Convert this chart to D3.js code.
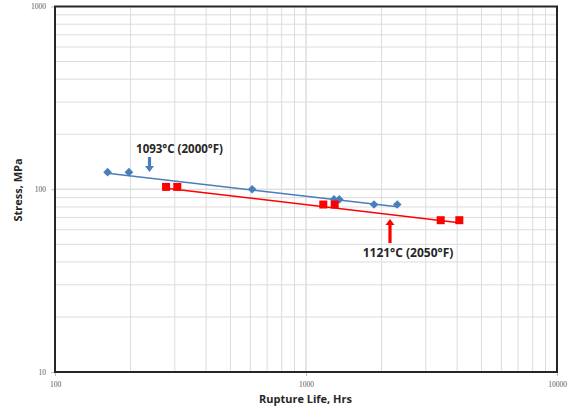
<!DOCTYPE html>
<html><head><meta charset="utf-8">
<script src="https://cdn.jsdelivr.net/npm/d3@7"></script>
<style>body{margin:0;background:#fff;} svg{display:block;}</style>
</head><body>
<script>
// Data
const blueHours = [162, 197, 610, 1293, 1357, 1866, 2310];
const blueStress = [124, 124, 100, 88, 88, 82.5, 82.5];
const redHours = [277, 307, 1172, 1301, 3441, 4082];
const redStress = [103, 103, 82.5, 82.5, 67.7, 67.7];
const blueTrendHours = [162, 2310];
const blueTrendStress = [122.3, 80.1];
const redTrendHours = [277, 4082];
const redTrendStress = [101.3, 65.6];
const xTicks = [100, 1000, 10000];
const yTicks = [10, 100, 1000];
const blueLabel = "1093°C (2000°F)";
const redLabel = "1121°C (2050°F)";

const W = 573, H = 412;
const svg = d3.select("body").append("svg").attr("width", W).attr("height", H);
const x = d3.scaleLog().domain([100, 10000]).range([55, 557]);
const y = d3.scaleLog().domain([10, 1000]).range([372, 6.5]);

// minor grid
const gx = [], gy = [];
[100, 1000].forEach(d => { for (let k = 1; k <= 10; k++) gx.push(d * k); });
[10, 100].forEach(d => { for (let k = 1; k <= 10; k++) gy.push(d * k); });
svg.append("g").selectAll("line").data(gx).join("line")
  .attr("x1", d => x(d)).attr("x2", d => x(d)).attr("y1", y(10)).attr("y2", y(1000))
  .attr("stroke", "#dcdcdc").attr("stroke-width", 1);
svg.append("g").selectAll("line").data(gy).join("line")
  .attr("y1", d => y(d)).attr("y2", d => y(d)).attr("x1", x(100)).attr("x2", x(10000))
  .attr("stroke", "#dcdcdc").attr("stroke-width", 1);

// axes
const fmt = d => d3.format("d")(d);
const xAxis = svg.append("g").attr("transform", `translate(0,${y(10)})`)
  .call(d3.axisBottom(x).tickValues(xTicks).tickFormat(fmt).tickSize(4).tickPadding(6));
const yAxis = svg.append("g").attr("transform", `translate(${x(100)},0)`)
  .call(d3.axisLeft(y).tickValues(yTicks).tickFormat(fmt).tickSize(4).tickPadding(5));
[xAxis, yAxis].forEach(a => {
  a.select(".domain").remove();
  a.selectAll(".tick line").attr("stroke", "#bfbfbf");
  a.selectAll(".tick text").attr("fill", "#595959").attr("font-size", "7.5px")
    .attr("font-family", "Liberation Serif, serif");
});

// frame
svg.append("rect").attr("x", x(100)).attr("y", y(1000))
  .attr("width", x(10000) - x(100)).attr("height", y(10) - y(1000))
  .attr("fill", "none").attr("stroke", "#262626").attr("stroke-width", 2);

const blue = "#4a7ebb", red = "#ff0000";
const line = d3.line().x(d => x(d[0])).y(d => y(d[1]));
svg.append("path").datum(d3.zip(blueTrendHours, blueTrendStress)).attr("d", line)
  .attr("stroke", blue).attr("stroke-width", 1.5).attr("fill", "none");
svg.append("path").datum(d3.zip(redTrendHours, redTrendStress)).attr("d", line)
  .attr("stroke", red).attr("stroke-width", 1.5).attr("fill", "none");

svg.append("g").selectAll("path").data(d3.zip(blueHours, blueStress)).join("path")
  .attr("d", d3.symbol(d3.symbolDiamond2, 48))
  .attr("transform", d => `translate(${x(d[0])},${y(d[1])})`).attr("fill", blue);
svg.append("g").selectAll("rect").data(d3.zip(redHours, redStress)).join("rect")
  .attr("x", d => x(d[0]) - 4).attr("y", d => y(d[1]) - 4).attr("width", 8).attr("height", 8)
  .attr("fill", red);

// annotations
const font = "'Open Sans', 'DejaVu Sans', sans-serif";
svg.append("text").attr("x", 179.5).attr("y", 153).attr("text-anchor", "middle")
  .attr("font-family", font).attr("font-weight", "bold").attr("font-size", "11.5px")
  .attr("fill", "#262626").text(blueLabel);
svg.append("text").attr("x", 408).attr("y", 257).attr("text-anchor", "middle")
  .attr("font-family", font).attr("font-weight", "bold").attr("font-size", "12px")
  .attr("fill", "#262626").text(redLabel);

// arrows
function arrow(xc, yTail, yTip, color) {
  const dir = yTip > yTail ? 1 : -1;
  const headLen = 6, hw = 4.5, sw = 1.6;
  const yBase = yTip - dir * headLen;
  svg.append("path").attr("fill", color).attr("d",
    `M${xc - sw},${yTail} L${xc + sw},${yTail} L${xc + sw},${yBase} L${xc + hw},${yBase} L${xc},${yTip} L${xc - hw},${yBase} L${xc - sw},${yBase} Z`);
}
arrow(149.5, 157, 172, blue);
arrow(390, 243, 219, red);

// axis titles
svg.append("text").attr("x", 305.5).attr("y", 403).attr("text-anchor", "middle")
  .attr("font-family", font).attr("font-weight", "bold").attr("font-size", "11px")
  .attr("fill", "#262626").text("Rupture Life, Hrs");
svg.append("text").attr("transform", "translate(22,190) rotate(-90)").attr("text-anchor", "middle")
  .attr("font-family", font).attr("font-weight", "bold").attr("font-size", "11px")
  .attr("fill", "#262626").text("Stress, MPa");
</script>
</body></html>
